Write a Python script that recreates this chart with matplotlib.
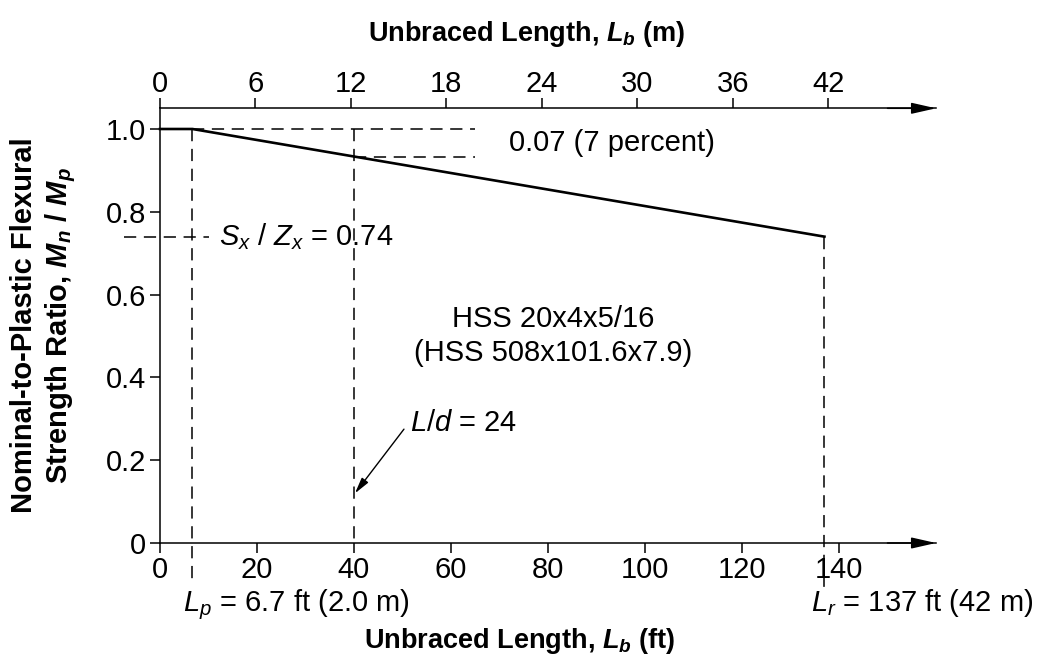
import matplotlib
matplotlib.use("Agg")
import matplotlib.pyplot as plt

plt.rcParams['font.family'] = ['Liberation Sans', 'DejaVu Sans']
plt.rcParams['mathtext.fontset'] = 'custom'
plt.rcParams['mathtext.rm'] = 'Liberation Sans'
plt.rcParams['mathtext.it'] = 'Liberation Sans:italic'
plt.rcParams['mathtext.bf'] = 'Liberation Sans:bold:italic'

# ---- data ----
length_ft = [0, 6.7, 137]
strength_ratio = [1.0, 1.0, 0.74]
x_ticks_ft = [0, 20, 40, 60, 80, 100, 120, 140]
x_ticks_m = [0, 6, 12, 18, 24, 30, 36, 42]
y_ticks = [0, 0.2, 0.4, 0.6, 0.8, 1.0]
y_tick_labels = ['0', '0.2', '0.4', '0.6', '0.8', '1.0']
Lp_ft = 6.7
Lr_ft = 137
Sx_Zx = 0.74
Ld_ft = 40
ratio_at_Ld = 0.933
FT_PER_M = 3.28084

FS = 21
FSB = 19.5
fig = plt.figure(figsize=(10.39, 6.56), dpi=100)
W, H = 1039, 656
ax = fig.add_axes([160 / W, 113 / H, 776 / W, 434.7 / H])
ax.set_xlim(0, 160)
ax.set_ylim(0, 1.05)
for s in ['top', 'right']:
    ax.spines[s].set_visible(False)
for s in ['left', 'bottom']:
    ax.spines[s].set_linewidth(1.1)
ax.set_xticks(x_ticks_ft)
ax.set_yticks(y_ticks)
ax.set_yticklabels(y_tick_labels)
ax.tick_params(axis='both', direction='out', length=7, width=1.1, labelsize=FS)
ax.tick_params(axis='x', pad=2)
ax.tick_params(axis='y', pad=3)

ax2 = ax.twiny()
ax2.set_xlim(0, 160 / FT_PER_M)
for s in ['bottom', 'left', 'right']:
    ax2.spines[s].set_visible(False)
ax2.spines['top'].set_linewidth(1.1)
ax2.set_xticks(x_ticks_m)
ax2.tick_params(axis='x', direction='out', length=7, width=1.1, labelsize=FS, pad=0.5)

# arrows at axis ends
for yv in (0, 1.05):
    ax.annotate('', xy=(160, yv), xytext=(150, yv),
                arrowprops=dict(arrowstyle='-|>,head_length=0.75,head_width=0.17',
                                mutation_scale=20, color='k', lw=1.1,
                                shrinkA=0, shrinkB=0),
                annotation_clip=False)

# main curve
ax.plot(length_ft, strength_ratio, color='k', lw=1.9, solid_joinstyle='miter',
        clip_on=False, zorder=5)

dash = dict(color='k', lw=1.1, linestyle=(0, (8, 5)), clip_on=False)
ax.plot([Lp_ft, Lp_ft], [1.0, -0.1], **dash)
ax.plot([Ld_ft, Ld_ft], [1.0, 0.0], **dash)
ax.plot([Lr_ft, Lr_ft], [Sx_Zx, -0.11], **dash)
ax.plot([Lp_ft, 65], [1.0, 1.0], **dash)
ax.plot([Ld_ft, 65], [ratio_at_Ld, ratio_at_Ld], **dash)
ax.plot([-7.5, 10], [Sx_Zx, Sx_Zx], **dash)

# annotations
ax.text(72, 0.966, '0.07 (7 percent)', fontsize=FS, va='center', ha='left')
ax.text(12.2, Sx_Zx, r'$S_x$ / $Z_x$ = 0.74', fontsize=FS, va='center', ha='left')
ax.text(81, 0.54, 'HSS 20x4x5/16', fontsize=FS, va='center', ha='center')
ax.text(81, 0.458, '(HSS 508x101.6x7.9)', fontsize=FS, va='center', ha='center')
ax.text(51.5, 0.29, r'$L/d$ = 24', fontsize=FS, va='center', ha='left')
ax.annotate('', xy=(40.2, 0.12), xytext=(50.3, 0.275),
            arrowprops=dict(arrowstyle='-|>,head_length=0.6,head_width=0.15',
                            mutation_scale=16, color='k', lw=1.0,
                            shrinkA=0, shrinkB=0))
ax.text(4.7, -0.15, r'$L_p$ = 6.7 ft (2.0 m)', fontsize=FS, va='center', ha='left',
        clip_on=False)
ax.text(134.3, -0.146, r'$L_r$ = 137 ft (42 m)', fontsize=FS, va='center', ha='left',
        clip_on=False)

# axis labels
ax.set_xlabel(r'Unbraced Length, $\mathbf{L_b}$ (ft)', fontsize=FSB, fontweight='bold')
ax.xaxis.set_label_coords(0.463, -0.19)
ax2.set_xlabel(r'Unbraced Length, $\mathbf{L_b}$ (m)', fontsize=FSB, fontweight='bold')
ax2.xaxis.set_label_coords(0.473, 1.155)
fig.text(44 / W, 1 - 325 / H,
         'Nominal-to-Plastic Flexural\n' + r'Strength Ratio, $\mathbf{M_n}$ / $\mathbf{M_p}$',
         rotation=90, fontsize=21, fontweight='bold', ha='center', va='center',
         multialignment='center', linespacing=1.25)

fig.savefig('out.png', dpi=100)
